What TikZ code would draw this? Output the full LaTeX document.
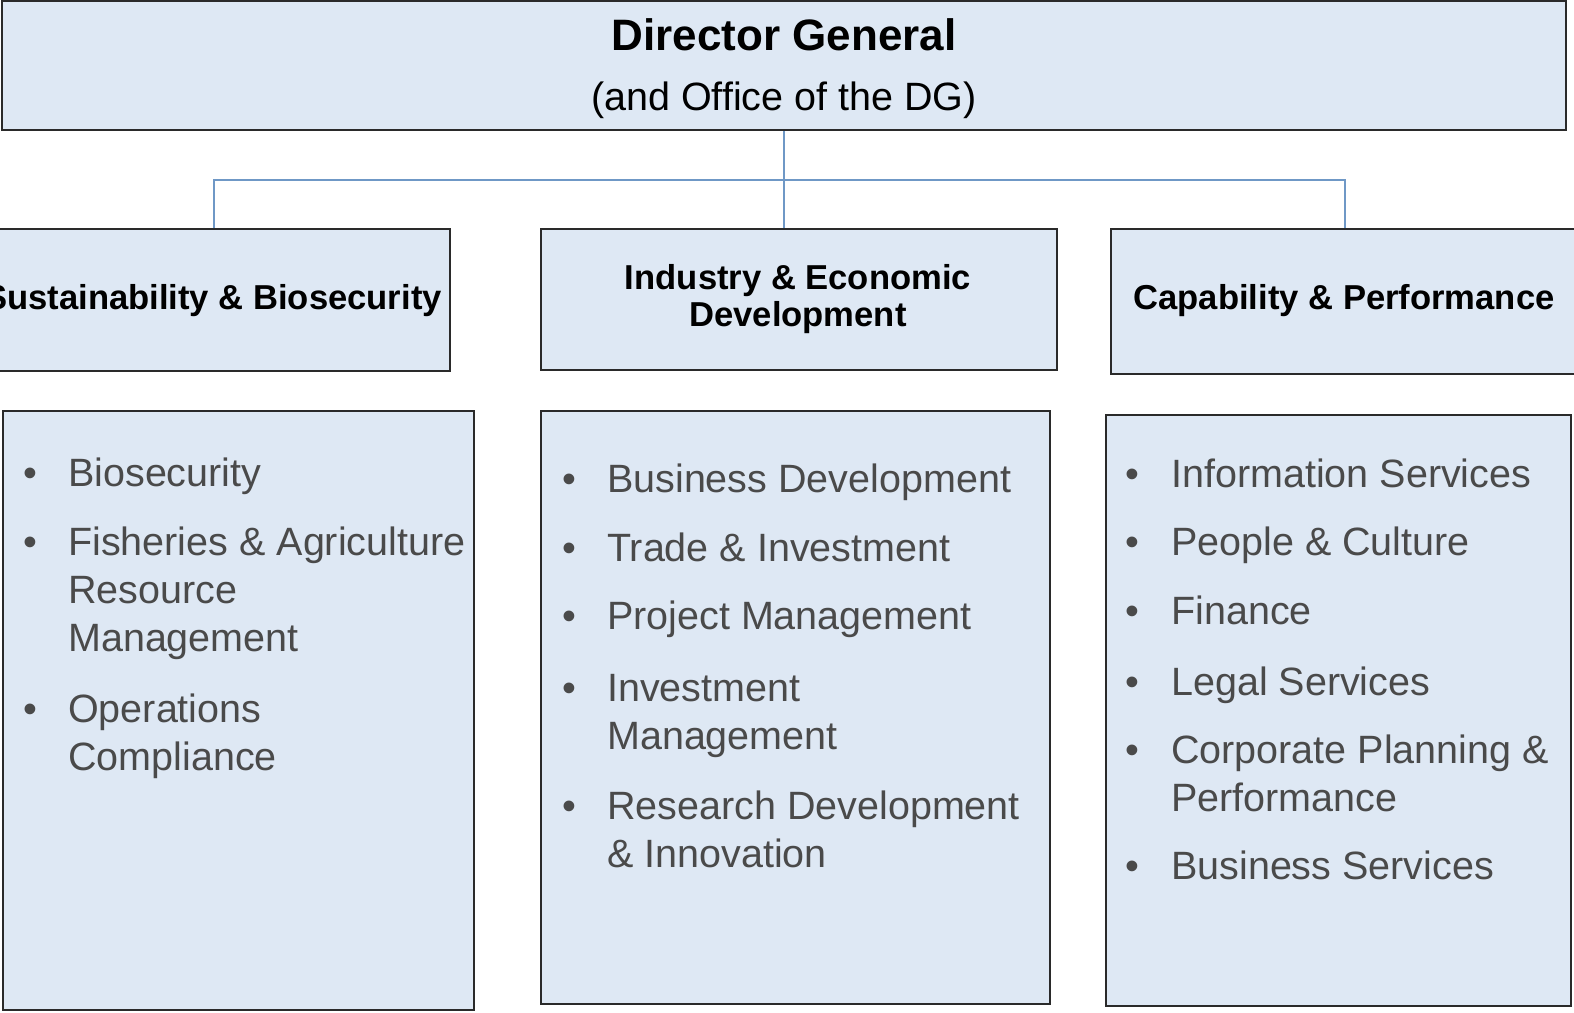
\documentclass[tikz,border=0pt]{standalone}
\usepackage{fontspec}
\setmainfont{Liberation Sans}
\definecolor{boxfill}{HTML}{DEE8F4}
\definecolor{boxline}{HTML}{2A2A2A}
\definecolor{connblue}{HTML}{6F98C6}
\definecolor{itemgray}{HTML}{4A4A4A}
\newcommand{\itemlines}[1]{\parbox[t]{440pt}{\raggedright #1}}
\newcommand{\headlines}[1]{\parbox[t]{500pt}{\centering #1}}
\tikzset{
  orgbox/.style={draw=boxline, fill=boxfill, line width=2pt, rectangle, inner sep=0pt},
  conn/.style={draw=connblue, line width=1.6pt},
  headtxt/.style={inner sep=0pt, anchor=base, font=\fontsize{34.6}{37}\selectfont\bfseries, text=black},
  bul/.style={inner sep=0pt, anchor=base, font=\fontsize{39.5}{48.2}\selectfont, text=itemgray},
  itemtxt/.style={inner sep=0pt, anchor=base west, font=\fontsize{39.5}{48.2}\selectfont, text=itemgray},
}
\begin{document}
\begin{tikzpicture}[x=1pt,y=-1pt]
\useasboundingbox (0,0) rectangle (1574,1012);
\begin{scope}
\clip (0,0) rectangle (1574,1012);
% top box
\node[orgbox, minimum width=1564pt, minimum height=129pt] (dg) at (784,65.5) {};
\node[inner sep=0pt, anchor=base, font=\fontsize{44}{48}\selectfont\bfseries] (dgt) at (784,50) {Director General};
\node[inner sep=0pt, anchor=base, font=\fontsize{39.5}{44}\selectfont] (dgs) at (784,110.5) {(and Office of the DG)};
% middle boxes
\node[orgbox, minimum width=472pt, minimum height=142pt] (sbb) at (214,300) {};
\node[orgbox, minimum width=516pt, minimum height=140.5pt] (idb) at (799,299.25) {};
\node[orgbox, minimum width=468pt, minimum height=145pt] (cpb) at (1345,301.5) {};
\node[headtxt] (sbt) at (213,309) {Sustainability \& Biosecurity};
\node[headtxt] (idt) at (798,289) {\headlines{Industry \& Economic\\Development}};
\node[headtxt] (cpt) at (1344,309) {Capability \& Performance};
% connectors
\coordinate (hub) at (784,180);
\draw[conn] (dg.south) -- (dg.south |- idb.north);
\draw[conn] (sbb.north) |- (hub) -| (cpb.north);
% bottom boxes
\node[orgbox, minimum width=471pt, minimum height=599pt] (lb) at (238.5,710.5) {};
\node[orgbox, minimum width=509pt, minimum height=593pt] (mb) at (795.5,707.5) {};
\node[orgbox, minimum width=465pt, minimum height=591pt] (rb) at (1338.5,710.5) {};
% left list
\node[bul] (lb1) at (30,486) {•};
\node[itemtxt] (lt1) at (68,486) {Biosecurity};
\node[bul] (lb2) at (30,555) {•};
\node[itemtxt] (lt2) at (68,555) {\itemlines{Fisheries \& Agriculture\\Resource\\Management}};
\node[bul] (lb3) at (30,722) {•};
\node[itemtxt] (lt3) at (68,722) {\itemlines{Operations\\Compliance}};
% middle list
\node[bul] (mb1) at (569,492) {•};
\node[itemtxt] (mt1) at (607,492) {Business Development};
\node[bul] (mb2) at (569,561) {•};
\node[itemtxt] (mt2) at (607,561) {Trade \& Investment};
\node[bul] (mb3) at (569,629) {•};
\node[itemtxt] (mt3) at (607,629) {Project Management};
\node[bul] (mb4) at (569,701) {•};
\node[itemtxt] (mt4) at (607,701) {\itemlines{Investment\\Management}};
\node[bul] (mb5) at (569,819) {•};
\node[itemtxt] (mt5) at (607,819) {\itemlines{Research Development\\\& Innovation}};
% right list
\node[bul] (rb1) at (1132,487) {•};
\node[itemtxt] (rt1) at (1171,487) {Information Services};
\node[bul] (rb2) at (1132,555) {•};
\node[itemtxt] (rt2) at (1171,555) {People \& Culture};
\node[bul] (rb3) at (1132,624) {•};
\node[itemtxt] (rt3) at (1171,624) {Finance};
\node[bul] (rb4) at (1132,695) {•};
\node[itemtxt] (rt4) at (1171,695) {Legal Services};
\node[bul] (rb5) at (1132,763) {•};
\node[itemtxt] (rt5) at (1171,763) {\itemlines{Corporate Planning \&\\Performance}};
\node[bul] (rb6) at (1132,879) {•};
\node[itemtxt] (rt6) at (1171,879) {Business Services};
\end{scope}
\end{tikzpicture}
\end{document}
